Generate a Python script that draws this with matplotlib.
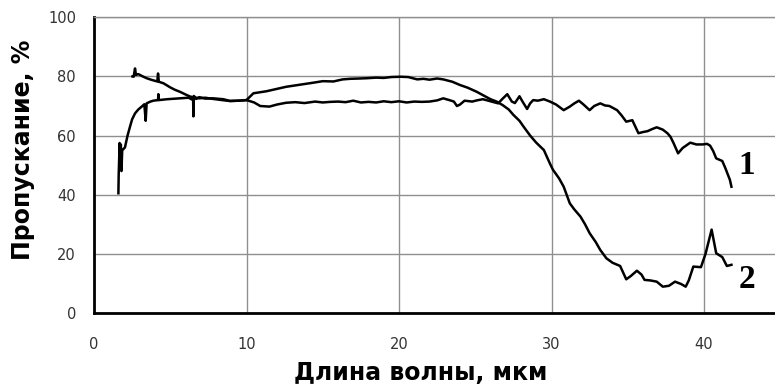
import matplotlib
matplotlib.use("Agg")
import matplotlib.pyplot as plt

# Transmission spectra of two samples (wavelength in µm, transmission in %)
wl_1 = [2.52, 2.6, 2.69, 2.75, 2.9, 3.2, 3.45, 3.8, 4.15, 4.2, 4.25, 4.55, 5.0, 5.3,
        5.64, 6.0, 6.3, 6.6, 6.9, 7.3, 7.8, 8.4, 8.9, 9.5, 10.0, 10.5, 10.9, 11.5,
        12.0, 12.6, 13.2, 13.8, 14.5, 15.0, 15.5, 16.0, 16.5, 17.0, 17.5, 18.0,
        18.5, 19.0, 19.5, 20.0, 20.5, 21.0, 21.5, 22.0, 22.5, 22.9, 23.3, 23.6,
        23.8, 24.0, 24.3, 24.8, 25.1, 25.5, 26.0, 26.5, 26.8, 27.1, 27.4, 27.6,
        27.9, 28.1, 28.4, 28.6, 28.8, 29.1, 29.5, 29.9, 30.3, 30.8, 31.2, 31.5,
        31.8, 32.1, 32.5, 32.8, 33.2, 33.5, 33.8, 34.3, 34.6, 34.9, 35.3, 35.5,
        35.7, 36.0, 36.3, 36.6, 36.9, 37.3, 37.6, 37.8, 38.0, 38.3, 38.6, 39.1,
        39.5, 39.9, 40.2, 40.4, 40.6, 40.8, 41.2, 41.4, 41.7, 41.8]
tr_1 = [80.0, 79.9, 82.7, 80.5, 80.8, 80.0, 79.4, 78.8, 78.3, 81.0, 78.2, 77.7, 76.3, 75.5,
        74.8, 73.9, 73.2, 72.9, 72.6, 72.8, 72.4, 72.0, 71.7, 71.8, 72.0, 71.2, 70.0, 69.8,
        70.5, 71.1, 71.3, 71.0, 71.5, 71.2, 71.4, 71.5, 71.3, 71.8, 71.2, 71.4,
        71.2, 71.6, 71.3, 71.6, 71.2, 71.5, 71.4, 71.5, 71.9, 72.6, 72.0, 71.5,
        70.0, 70.5, 71.8, 71.5, 71.9, 72.3, 71.6, 70.9, 72.5, 74.0, 71.5, 71.0,
        73.3, 71.5, 69.0, 70.9, 72.0, 71.8, 72.3, 71.5, 70.5, 68.6, 69.8, 70.9,
        71.8, 70.5, 68.6, 70.0, 70.9, 70.2, 70.0, 68.6, 66.8, 64.7, 65.2, 63.0,
        60.8, 61.2, 61.5, 62.2, 62.8, 62.0, 60.8, 59.6, 57.5, 54.0, 55.8, 57.6,
        57.0, 57.0, 57.2, 56.6, 54.8, 52.3, 51.4, 49.0, 45.0, 42.7]

wl_2 = [1.6, 1.62, 1.65, 1.68, 1.72, 1.76, 1.8, 1.85, 2.03, 2.2, 2.36, 2.5, 2.69, 2.9,
        3.13, 3.3, 3.39, 3.45, 3.7, 3.89, 4.2, 4.22, 4.25, 4.8, 5.64, 6.2, 6.5, 6.52,
        6.55, 6.7, 6.9, 7.3, 7.8, 8.48, 8.92, 9.5, 10.0, 10.45, 11.32, 12.0, 12.6,
        13.5, 14.4, 15.0, 15.7, 16.3, 16.8, 17.4, 17.9, 18.5, 19.0, 19.5, 20.1,
        20.6, 21.2, 21.6, 22.0, 22.5, 22.9, 23.5, 24.0, 24.5, 25.1, 25.6, 26.0,
        26.4, 26.8, 27.2, 27.5, 27.9, 28.2, 28.6, 29.0, 29.5, 29.9, 30.1, 30.5,
        30.8, 31.2, 31.5, 31.9, 32.2, 32.5, 32.9, 33.2, 33.6, 34.0, 34.5, 34.9,
        35.2, 35.6, 35.9, 36.1, 36.5, 36.9, 37.3, 37.7, 38.1, 38.5, 38.8, 39.0,
        39.3, 39.8, 40.1, 40.5, 40.8, 41.2, 41.5, 41.8]
tr_2 = [40.5, 47.0, 52.0, 57.5, 53.0, 57.0, 48.0, 55.0, 56.0, 60.0, 63.0, 65.5, 67.5, 68.8,
        69.8, 70.6, 65.0, 70.9, 71.5, 71.8, 72.0, 74.0, 72.0, 72.3, 72.6, 72.8, 72.0, 66.5,
        73.4, 72.4, 73.0, 72.5, 72.6, 72.3, 71.7, 71.8, 72.0, 74.3, 75.0, 75.8, 76.5,
        77.2, 77.9, 78.4, 78.3, 79.0, 79.2, 79.3, 79.4, 79.6, 79.5, 79.8, 79.9,
        79.8, 79.0, 79.2, 78.9, 79.3, 79.0, 78.2, 77.1, 76.2, 74.8, 73.4, 72.3,
        71.5, 70.3, 68.8, 67.0, 65.0, 62.8, 60.0, 57.6, 55.1, 50.5, 48.4, 45.5,
        42.7, 37.1, 35.0, 32.6, 30.0, 27.0, 24.0, 21.3, 18.5, 17.0, 15.9, 11.4,
        12.5, 14.3, 13.0, 11.2, 11.0, 10.6, 8.9, 9.2, 10.6, 9.8, 8.9, 11.0,
        15.7, 15.5, 20.0, 28.2, 20.2, 18.9, 15.9, 16.3]

x_ticks = [0, 10, 20, 30, 40]
y_ticks = [0, 20, 40, 60, 80, 100]
curve_labels = ["1", "2"]

W, H = 775, 392
fig = plt.figure(figsize=(W / 100, H / 100), dpi=100)
ax = fig.add_axes([94 / W, 1 - 313 / H, 1 - 94 / W, (313 - 17.3) / H])

ax.plot(wl_1, tr_1, color="black", lw=1.8, solid_joinstyle="round")
ax.plot(wl_2, tr_2, color="black", lw=1.8, solid_joinstyle="round")

ax.set_xlim(0, (W - 94) / 15.25)
ax.set_ylim(0, 100)
ax.set_xticks(x_ticks)
ax.set_yticks(y_ticks)
ax.grid(True, color="#8f8f8f", lw=1.0)
ax.set_axisbelow(True)

for side in ("left", "bottom"):
    ax.spines[side].set_linewidth(2.0)
    ax.spines[side].set_color("black")
ax.spines["right"].set_visible(False)
ax.spines["top"].set_color("#8f8f8f")
ax.spines["top"].set_linewidth(1.0)

ax.tick_params(length=0, labelsize=10.5, labelcolor="#333333")
ax.tick_params(axis="x", pad=17)
ax.tick_params(axis="y", pad=13)
for lbl in ax.get_xticklabels() + ax.get_yticklabels():
    lbl.set_fontfamily("DejaVu Sans")

# curve numbers
ax.text(42.8, 50, curve_labels[0], fontsize=24, fontweight="bold",
        family="Liberation Serif", ha="center", va="center")
ax.text(42.8, 11.2, curve_labels[1], fontsize=24, fontweight="bold",
        family="Liberation Serif", ha="center", va="center")

fig.text(421 / W, 1 - 373 / H, "Длина волны, мкм", fontsize=17, fontweight="bold",
         family="DejaVu Sans", ha="center", va="center")
fig.text(23 / W, 1 - 150 / H, "Пропускание, %", fontsize=17, fontweight="bold",
         family="DejaVu Sans", ha="center", va="center", rotation=90)

fig.savefig("out.png", dpi=100)
